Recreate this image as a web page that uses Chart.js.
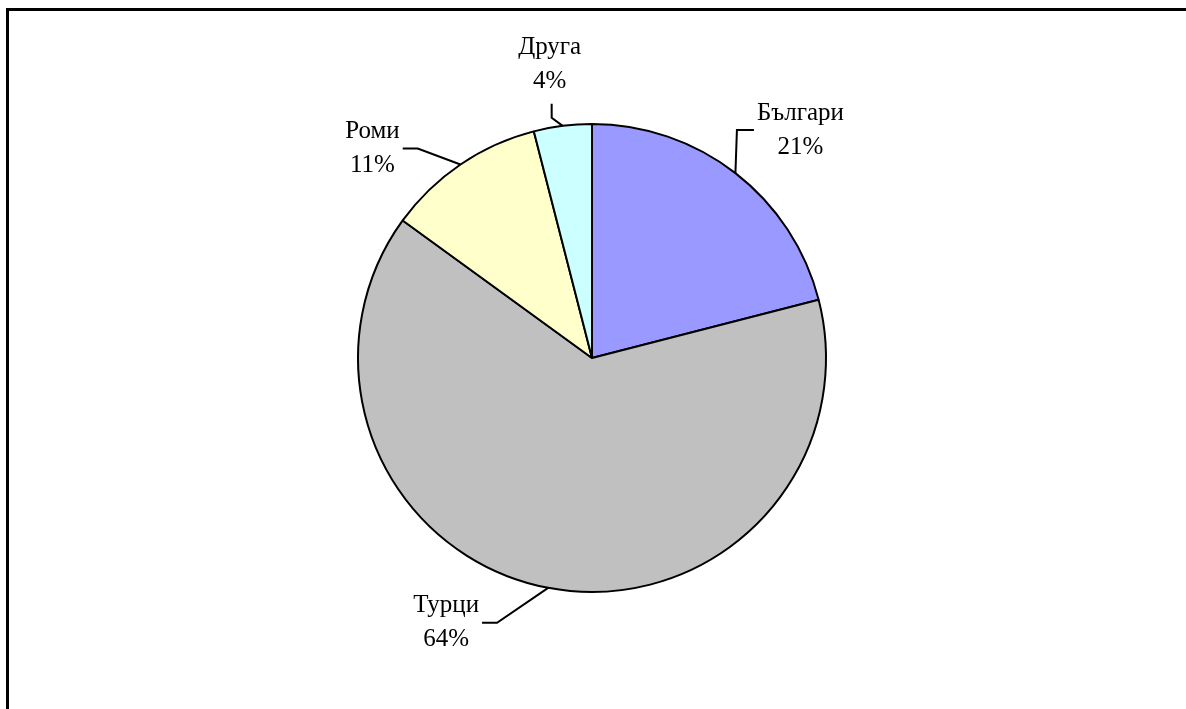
<!DOCTYPE html>
<html>
<head>
<meta charset="utf-8">
<script src="https://cdn.jsdelivr.net/npm/chart.js@4.4.0/dist/chart.umd.min.js"></script>
<style>
  body { margin: 0; background: #fff; }
  canvas { display: block; }
</style>
</head>
<body>
<canvas id="pie-chart" width="1186" height="709"></canvas>
<script>
// Data
const groups = ['Българи', 'Турци', 'Роми', 'Друга'];
const shares = [21, 64, 11, 4];
const sliceColors = ['#9999FF', '#C0C0C0', '#FFFFCC', '#CCFFFF'];

// where each label sits relative to the slice's outer edge (px)
const labelOffsets = [[65, -43], [-102, 35], [-88, -16], [-13, -61]];

const FONT = '25px "Liberation Serif", "Times New Roman", serif';
const LINE_GAP = 34;

// frame: only top and left edges show inside the window
const framePlugin = {
    id: 'frame',
    beforeDraw(chart) {
        const ctx = chart.ctx;
        ctx.save();
        ctx.strokeStyle = '#000';
        ctx.lineWidth = 3;
        ctx.strokeRect(7.5, 9.5, 1400, 900);
        ctx.restore();
    }
};

// Excel-like labels with leader lines
const labelPlugin = {
    id: 'pieLabels',
    afterDatasetsDraw(chart) {
        const ctx = chart.ctx;
        const meta = chart.getDatasetMeta(0);
        const total = shares.reduce((a, b) => a + b, 0);
        ctx.save();
        ctx.font = FONT;
        ctx.fillStyle = '#000';
        ctx.strokeStyle = '#000';
        ctx.lineWidth = 2;
        ctx.textAlign = 'center';
        ctx.textBaseline = 'middle';

        meta.data.forEach((arc, i) => {
            const mid = (arc.startAngle + arc.endAngle) / 2;
            const ex = arc.x + Math.cos(mid) * arc.outerRadius;
            const ey = arc.y + Math.sin(mid) * arc.outerRadius;
            const lx = ex + labelOffsets[i][0];
            const ly = ey + labelOffsets[i][1];

            const pct = Math.round(shares[i] / total * 100) + '%';
            const hw = Math.max(ctx.measureText(groups[i]).width, ctx.measureText(pct).width) / 2;

            ctx.fillText(groups[i], lx, ly - LINE_GAP / 2);
            ctx.fillText(pct, lx, ly + LINE_GAP / 2);

            // leader line
            let px, py, qx, qy;
            if (Math.abs(ex - lx) < hw) {
                px = lx + 2; py = ly + LINE_GAP / 2 + 22;
                qx = px; qy = py + 14;
            } else if (ex > lx) {
                px = lx + hw + 3; py = ly;
                qx = px + 15; qy = py;
            } else {
                px = lx - hw - 3; py = ly;
                qx = px - 17; qy = py;
            }
            ctx.beginPath();
            ctx.moveTo(px, py);
            ctx.lineTo(qx, qy);
            ctx.lineTo(ex, ey);
            ctx.stroke();
        });
        ctx.restore();
    }
};

new Chart(document.getElementById('pie-chart'), {
    type: 'pie',
    data: {
        labels: groups,
        datasets: [{
            data: shares,
            backgroundColor: sliceColors,
            borderColor: '#000',
            borderWidth: 2
        }]
    },
    options: {
        responsive: false,
        animation: false,
        layout: {
            padding: { top: 123, bottom: 116, left: 357, right: 359 }
        },
        plugins: {
            legend: { display: false },
            tooltip: { enabled: false }
        }
    },
    plugins: [framePlugin, labelPlugin]
});
</script>
</body>
</html>
